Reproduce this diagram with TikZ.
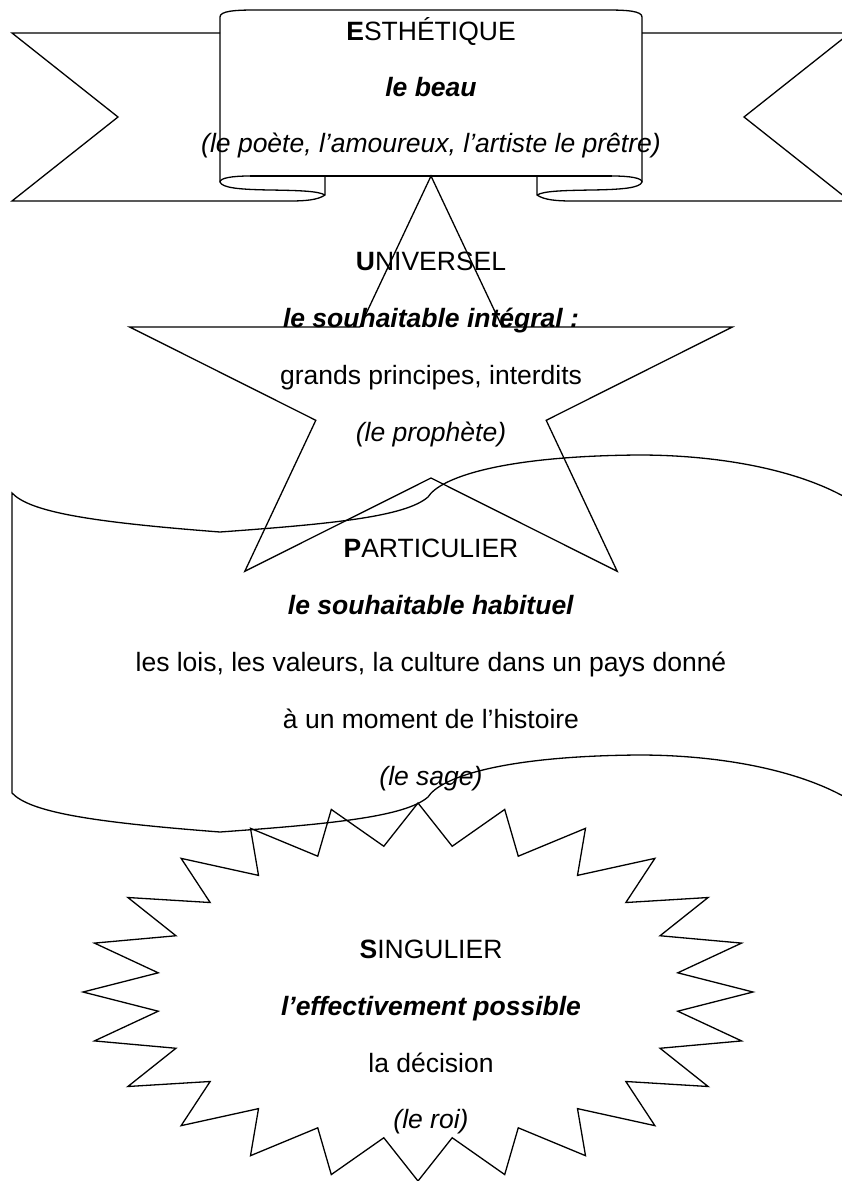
\documentclass[tikz,border=0pt]{standalone}
\usepackage{fontspec}
\setmainfont{Liberation Sans}
\begin{document}
\begin{tikzpicture}[x=1pt,y=-1pt,
  outline/.style={draw=black, line width=1.3pt, line join=miter},
  txt/.style={anchor=base, inner sep=0pt, font=\fontsize{26.5}{30}\selectfont}]
\useasboundingbox (0,0) rectangle (842,1181);
\clip (0,0) rectangle (842,1181);

% ---------- ribbon (top banner) ----------
\foreach \side in {1,-1}{
  \begin{scope}[xshift={(1-\side)*431pt}, xscale=\side]
    % tail with notch
    \draw[outline] (325,176) -- (325,195) .. controls (318,200) and (305,201) .. (290,201)
      -- (12,201) -- (118,117) -- (12,33) -- (220,33);
    % rolled end
    \draw[outline] (325,195) .. controls (318,191) and (300,190.5) .. (270,190)
      .. controls (240,189.5) and (222,188) .. (220,182)
      .. controls (220,178) and (232,176) .. (250,176);
  \end{scope}
}
% centre panel
\draw[outline] (220,182) -- (220,17) .. controls (220,11) and (235,10) .. (255,10)
  -- (607,10) .. controls (627,10) and (642,11) .. (642,17) -- (642,182);
\draw[outline] (250,176) -- (612,176);

% ---------- five-pointed star ----------
\draw[outline] (431,176) -- (502.2,327) -- (732.3,327) -- (546.2,420.3) -- (617.2,571.3)
  -- (431,478) -- (244.8,571.3) -- (315.8,420.3) -- (129.7,327) -- (359.8,327) -- cycle;

% ---------- wave ----------
\draw[outline] (850,500) .. controls (800,470) and (720,455) .. (639,455)
  .. controls (500,456) and (440,478) .. (428,497)
  .. controls (405,517) and (330,524) .. (220,532)
  .. controls (90,522) and (30,512) .. (12,493)
  -- (12,793)
  .. controls (30,812) and (90,822) .. (220,832)
  .. controls (330,824) and (405,817) .. (428,797)
  .. controls (440,778) and (500,756) .. (639,755)
  .. controls (720,755) and (800,770) .. (850,800);

% ---------- 24-point burst ----------
\draw[outline] plot[variable=\k, samples at={0,...,47}]
  ({418+(335-73*mod(\k,2))*cos(90+7.5*\k)}, {992-(189-42*mod(\k,2))*sin(90+7.5*\k)}) -- cycle;

% ---------- texts ----------
\node[txt] (e1) at (431,40)  {\textbf{E}STHÉTIQUE};
\node[txt] (e2) at (431,96)  {\textbf{\textit{le beau}}};
\node[txt] (e3) at (431,152) {\textit{(le poète, l’amoureux, l’artiste le prêtre)}};

\node[txt] (u1) at (431,270) {\textbf{U}NIVERSEL};
\node[txt] (u2) at (431,327) {\textbf{\textit{le souhaitable intégral :}}};
\node[txt] (u3) at (431,384) {grands principes, interdits};
\node[txt] (u4) at (431,441) {\textit{(le prophète)}};

\node[txt] (p1) at (431,557) {\textbf{P}ARTICULIER};
\node[txt] (p2) at (431,614) {\textbf{\textit{le souhaitable habituel}}};
\node[txt] (p3) at (431,671) {les lois, les valeurs, la culture dans un pays donné};
\node[txt] (p4) at (431,728) {à un moment de l’histoire};
\node[txt] (p5) at (431,785) {\textit{(le sage)}};

\node[txt] (s1) at (431,958)  {\textbf{S}INGULIER};
\node[txt] (s2) at (431,1015) {\textbf{\textit{l’effectivement possible}}};
\node[txt] (s3) at (431,1072) {la décision};
\node[txt] (s4) at (431,1128) {\textit{(le roi)}};
\end{tikzpicture}
\end{document}
